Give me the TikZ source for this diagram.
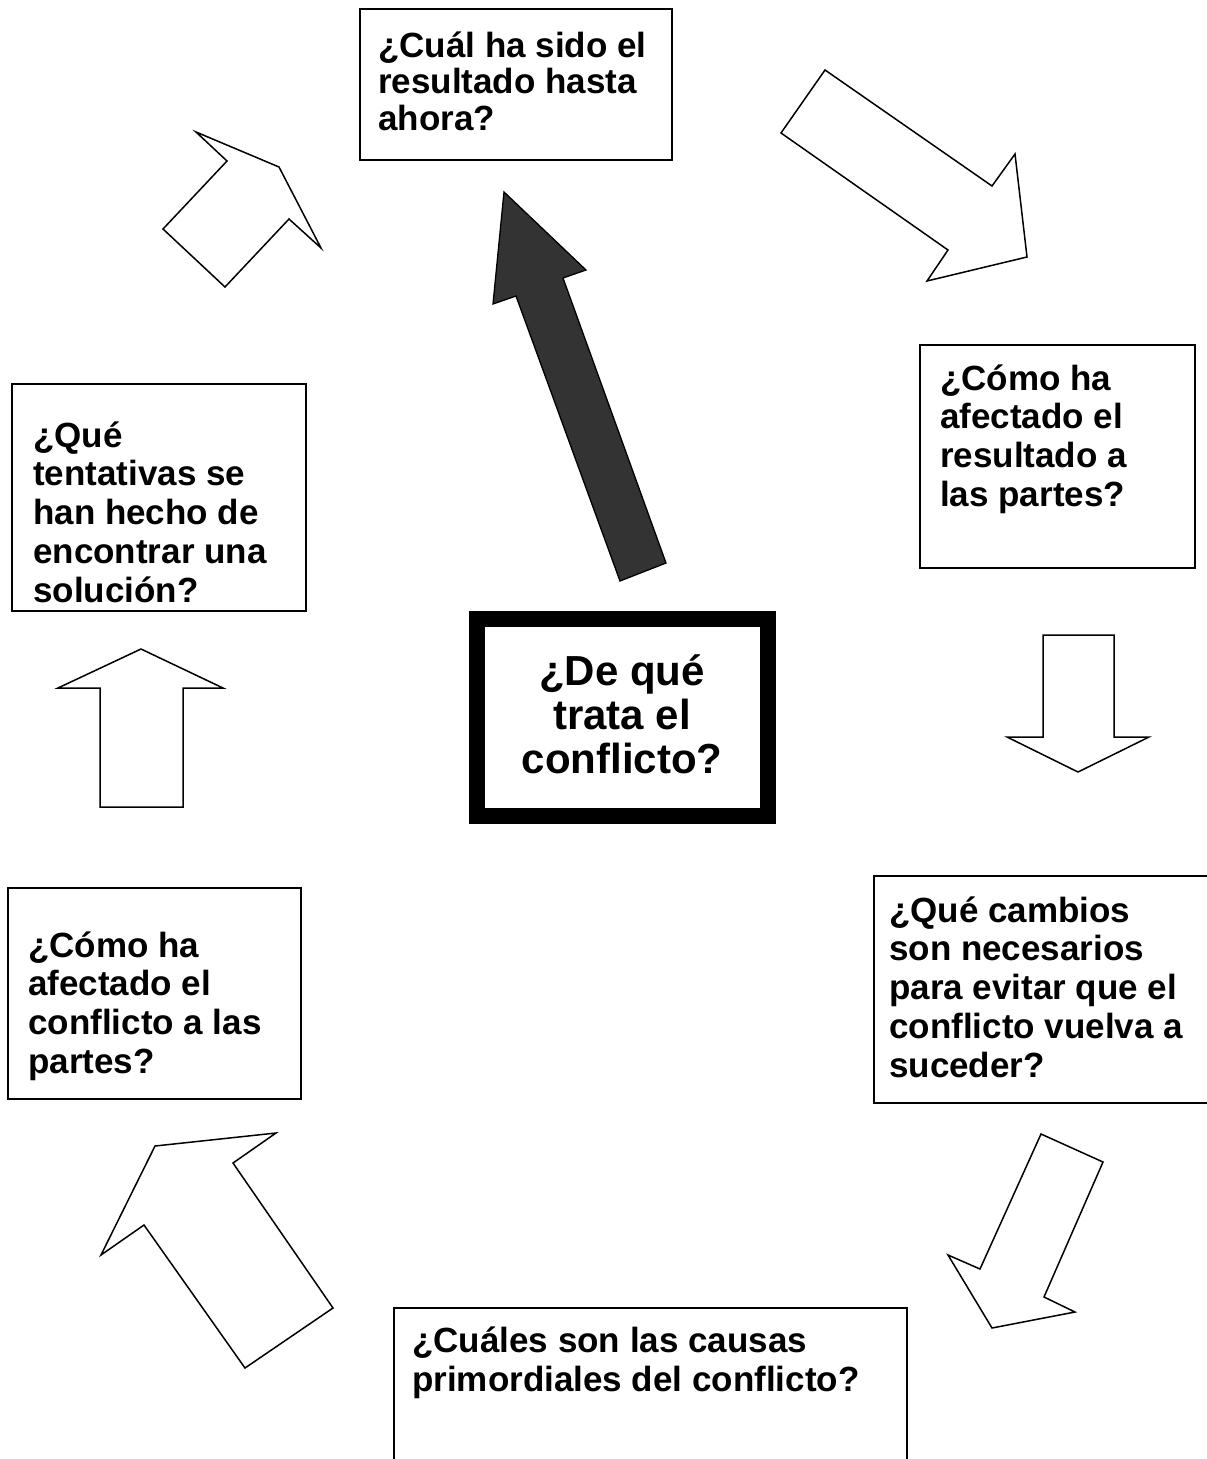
\documentclass[tikz,border=0pt]{standalone}
\usepackage{fontspec}
\setmainfont{Liberation Sans}
\definecolor{darkfill}{HTML}{333333}
\newcommand{\lbox}[2]{\parbox[t]{340pt}{\raggedright\bfseries\fontsize{35}{#1}\selectfont\lineskiplimit=-100pt\relax\noindent #2}}
\newcommand{\cbox}[1]{\parbox[t]{300pt}{\centering\bfseries\fontsize{42}{44}\selectfont\lineskiplimit=-100pt\relax #1}}
\begin{document}
\begin{tikzpicture}[x=1pt,y=-1pt,
  qframe/.style={draw=black, line width=1.6pt, fill=white, inner sep=0pt, outer sep=0pt, anchor=north west},
  blockarrow/.style={draw=black, line width=1.5pt, fill=white, line join=miter},
  darkarrow/.style={draw=black, line width=1.3pt, fill=darkfill, line join=miter},
  qtext/.style={anchor=base west, inner sep=0pt, text=black},
  ctext/.style={anchor=base, inner sep=0pt, text=black}]
\useasboundingbox (0,0) rectangle (1207,1459);
\fill[white] (0,0) rectangle (1207,1459);
\clip (0,0) rectangle (1207,1459);

% question boxes
\node[qframe, minimum width=312pt, minimum height=151pt] (b1) at (360,9) {};
\node[qframe, minimum width=275pt, minimum height=223pt] (b2) at (920,345) {};
\node[qframe, minimum width=294pt, minimum height=227pt] (b3) at (12,384) {};
\node[qframe, minimum width=293pt, minimum height=211pt] (b5) at (8,888) {};
\node[qframe, minimum width=346pt, minimum height=227pt] (b6) at (874,876) {};
\node[qframe, minimum width=513pt, minimum height=170pt] (b7) at (394,1308) {};
\node[draw=black, line width=16pt, fill=white, inner sep=0pt, outer sep=0pt, anchor=north west,
      minimum width=291pt, minimum height=197pt] (b4) at (477,619) {};

% texts
\node[qtext] (t1) at (378,57) {\lbox{36.5}{¿Cuál ha sido el\\resultado hasta\\ahora?}};
\node[qtext] (t2) at (940,390) {\lbox{38.7}{¿Cómo ha\\afectado el\\resultado a\\las partes?}};
\node[qtext] (t3) at (33,447) {\lbox{38.75}{¿Qué\\tentativas se\\han hecho de\\encontrar una\\solución?}};
\node[qtext] (t5) at (28,957) {\lbox{38.7}{¿Cómo ha\\afectado el\\conflicto a las\\partes?}};
\node[qtext] (t6) at (889,922) {\lbox{38.75}{¿Qué cambios\\son necesarios\\para evitar que el\\conflicto vuelva a\\suceder?}};
\node[qtext] (t7) at (412,1352) {\parbox[t]{500pt}{\raggedright\bfseries\fontsize{35}{39}\selectfont\lineskiplimit=-100pt\relax\noindent ¿Cuáles son las causas\\primordiales del conflicto?}};
\node[ctext] (t4) at (622,685) {\cbox{¿De qué\\trata el\\conflicto?}};

% block arrows
\draw[blockarrow] (196,132) -- (279,167) -- (321,248) -- (289,219) -- (225,287) -- (163,229) -- (227,161) -- cycle;
\draw[blockarrow] (825,70) -- (992,186) -- (1015,154) -- (1027,257) -- (927,281) -- (948,250) -- (781,133) -- cycle;
\draw[blockarrow] (1043,635) -- (1114,635) -- (1114,737) -- (1149,737) -- (1078,772) -- (1007,737) -- (1043,737) -- cycle;
\draw[blockarrow] (1041,1134) -- (1103,1162) -- (1044,1297) -- (1075,1312) -- (992,1328) -- (948,1255) -- (980,1269) -- cycle;
\draw[blockarrow] (276,1133) -- (233,1163) -- (333,1308) -- (245,1368) -- (144,1225) -- (101,1255) -- (155,1146) -- cycle;
\draw[blockarrow] (141,649) -- (223,688) -- (183,688) -- (183,807) -- (100,807) -- (100,688) -- (58,688) -- cycle;
\draw[darkarrow] (504,192) -- (586,270) -- (563,278) -- (666,563) -- (620,581) -- (516,296) -- (493,304) -- cycle;
\end{tikzpicture}
\end{document}
